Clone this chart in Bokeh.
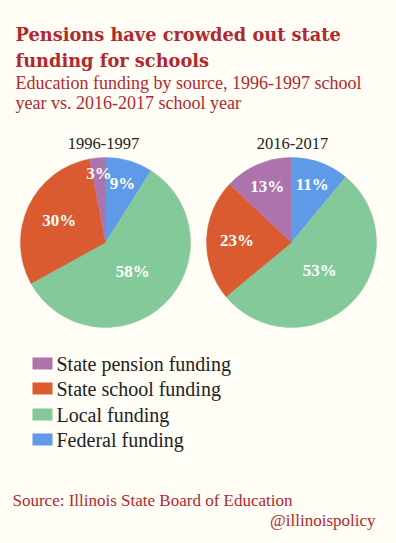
import math
from bokeh.plotting import figure
from bokeh.models import Range1d, ColumnDataSource
from bokeh.core.properties import value
from bokeh.embed import file_html
from bokeh.resources import INLINE

# ---- data ----
categories = ["Federal funding", "Local funding", "State school funding", "State pension funding"]
share_1996 = [9, 58, 30, 3]
share_2016 = [11, 53, 23, 13]
years = ["1996-1997", "2016-2017"]
legend_order = ["State pension funding", "State school funding", "Local funding", "Federal funding"]
colors = {
    "Federal funding": "#5f9ae8",
    "Local funding": "#84c99a",
    "State school funding": "#d95b2f",
    "State pension funding": "#ad73ac",
}
title_lines = ["Pensions have crowded out state", "funding for schools"]
subtitle_lines = ["Education funding by source, 1996-1997 school", "year vs. 2016-2017 school year"]
source_text = "Source: Illinois State Board of Education"
handle_text = "@illinoispolicy"

W, H = 396, 543
BG = "#fffdf6"
RED = "#b1292e"
DARK = "#222222"
SERIF = "Liberation Serif"

p = figure(width=W, height=H, output_backend="svg", toolbar_location=None,
           x_range=Range1d(0, W), y_range=Range1d(0, H), min_border=0)
p.axis.visible = False
p.grid.visible = False
p.outline_line_color = None
p.background_fill_color = BG
p.border_fill_color = BG

R = 85
centers = [(105, 301), (291, 301)]
title_x = [103, 292]

for (cx, cy), tx, shares, yr in zip(centers, title_x, [share_1996, share_2016], years):
    total = float(sum(shares))
    cum = 0.0
    starts, ends, cols, lx, ly, labs = [], [], [], [], [], []
    for cat, v in zip(categories, shares):
        frac = v / total
        a_end = math.pi / 2 - 2 * math.pi * cum
        a_start = math.pi / 2 - 2 * math.pi * (cum + frac)
        starts.append(a_start)
        ends.append(a_end)
        cols.append(colors[cat])
        mid = (a_start + a_end) / 2
        half = math.pi * frac
        rc = 2 * R * math.sin(half) / (3 * half)
        if frac < 0.05:
            rl = 0.82 * R
        elif frac < 0.2:
            rl = 0.72 * R
        else:
            rl = max(rc * 1.05, 0.47 * R)
        lx.append(cx + rl * math.cos(mid))
        ly.append(cy + rl * math.sin(mid))
        labs.append(f"{v}%")
        cum += frac
    src = ColumnDataSource(dict(x=[cx] * 4, y=[cy] * 4, s=starts, e=ends, c=cols))
    p.wedge(x="x", y="y", radius=R, start_angle="s", end_angle="e", direction="anticlock",
            fill_color="c", line_color="c", line_width=0.5, source=src)
    p.text(x=lx, y=ly, text=labs, text_color="white", text_font=value(SERIF),
           text_font_style="bold", text_font_size="17px", text_align="center",
           text_baseline="middle")
    p.text(x=[tx], y=[cy + 99], text=[yr], text_color=DARK, text_font=value(SERIF),
           text_font_size="16.5px", text_align="center", text_baseline="alphabetic")

# titles
p.text(x=[15, 15], y=[509, 483], text=title_lines, text_color=RED, text_font=value("DejaVu Serif"),
       text_font_style="bold", text_font_size="17.8px", text_baseline="alphabetic")
p.text(x=[15, 15], y=[461, 441], text=subtitle_lines, text_color=RED, text_font=value(SERIF),
       text_font_size="18px", text_baseline="alphabetic")

# legend
ly0 = [180, 155, 129, 104]
p.rect(x=[42] * 4, y=ly0, width=20, height=12, fill_color=[colors[c] for c in legend_order],
       line_color=None)
p.text(x=[56] * 4, y=ly0, text=legend_order, text_color=DARK, text_font=value(SERIF),
       text_font_size="20px", text_baseline="middle")

# source
p.text(x=[12], y=[43], text=[source_text], text_color=RED, text_font=value(SERIF),
       text_font_size="17px", text_baseline="alphabetic")
p.text(x=[375], y=[23], text=[handle_text], text_color=RED, text_font=value(SERIF),
       text_font_size="17px", text_align="right", text_baseline="alphabetic")

open("out.html", "w").write(file_html(p, INLINE))
